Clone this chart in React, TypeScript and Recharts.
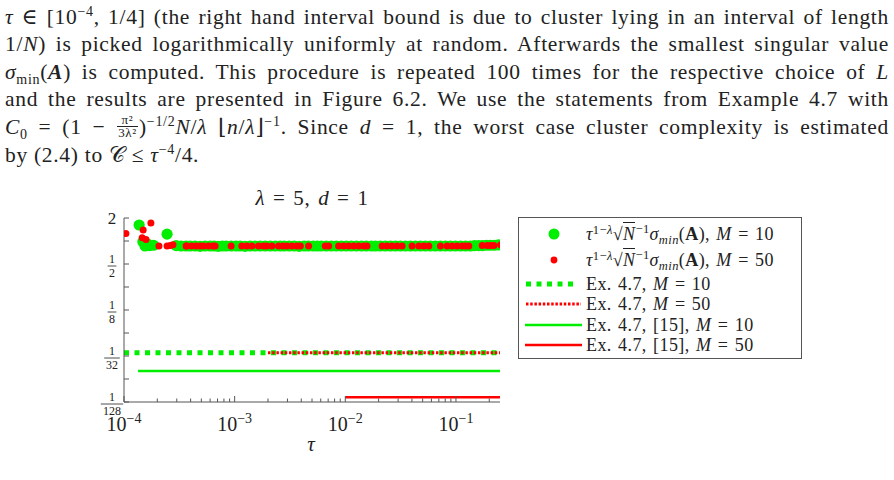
import { ComposedChart, Scatter, Line, XAxis, YAxis, Legend } from "recharts";

// measured sigma_min values (scaled), M = 10
const tauM10 = [
  1.37e-4, 1.48e-4, 1.55e-4, 1.62e-4, 1.7e-4, 1.85e-4, 2.45e-4, 2.96e-4, 3.28e-4, 3.64e-4,
  3.96e-4, 4.39e-4, 4.87e-4, 5.41e-4, 6.0e-4, 6.52e-4, 7.09e-4, 7.71e-4, 8.38e-4, 9.3e-4,
  1.03e-3, 1.12e-3, 1.24e-3, 1.38e-3, 1.53e-3, 1.7e-3, 1.89e-3, 2.1e-3, 2.33e-3, 2.58e-3,
  2.8e-3, 3.11e-3, 3.45e-3, 3.83e-3, 4.25e-3, 4.63e-3, 5.13e-3, 5.58e-3, 6.07e-3, 6.73e-3,
  7.47e-3, 8.29e-3, 9.2e-3, 1.02e-2, 1.13e-2, 1.26e-2, 1.4e-2, 1.55e-2, 1.72e-2, 1.87e-2,
  2.07e-2, 2.3e-2, 2.56e-2, 2.84e-2, 3.15e-2, 3.49e-2, 3.88e-2, 4.3e-2, 4.77e-2, 5.3e-2,
  5.88e-2, 6.52e-2, 7.24e-2, 8.03e-2, 8.91e-2, 9.89e-2, 0.11, 0.122, 0.135, 0.147,
  0.16, 0.174, 0.189, 0.205, 0.223, 0.242,
];
const sigmaM10 = [
  1.62, 0.98, 0.86, 0.92, 0.87, 0.88, 1.23, 0.87, 0.86, 0.86,
  0.86, 0.86, 0.85, 0.86, 0.86, 0.86, 0.85, 0.86, 0.86, 0.86,
  0.86, 0.86, 0.85, 0.86, 0.86, 0.86, 0.86, 0.86, 0.86, 0.86,
  0.86, 0.86, 0.86, 0.85, 0.86, 0.86, 0.86, 0.86, 0.86, 0.86,
  0.86, 0.86, 0.86, 0.86, 0.86, 0.86, 0.86, 0.86, 0.86, 0.86,
  0.86, 0.86, 0.86, 0.86, 0.86, 0.86, 0.86, 0.86, 0.86, 0.86,
  0.86, 0.86, 0.86, 0.86, 0.86, 0.86, 0.86, 0.86, 0.86, 0.87,
  0.87, 0.87, 0.88, 0.88, 0.88, 0.89,
];

// M = 50
const tauM50 = [
  1.04e-4, 1.46e-4, 1.49e-4, 1.58e-4, 1.75e-4, 2.07e-4, 2.45e-4, 2.62e-4, 2.77e-4, 3.64e-4,
  3.69e-4, 4.09e-4, 4.48e-4, 4.87e-4, 5.22e-4, 5.79e-4, 6.34e-4, 6.66e-4, 9.29e-4, 1.16e-3,
  1.29e-3, 1.43e-3, 1.64e-3, 1.82e-3, 1.95e-3, 2.17e-3, 2.49e-3, 2.73e-3, 2.97e-3, 3.29e-3,
  3.65e-3, 3.92e-3, 4.66e-3, 6.59e-3, 7.06e-3, 8.7e-3, 9.66e-3, 1.07e-2, 1.19e-2, 1.32e-2,
  1.47e-2, 1.57e-2, 2.15e-2, 2.38e-2, 2.64e-2, 2.94e-2, 3.26e-2, 4.01e-2, 4.61e-2, 5.12e-2,
  5.68e-2, 7.24e-2, 8.32e-2, 9.24e-2, 0.1026, 0.1138, 0.1219, 0.1306, 0.1725, 0.1915,
  0.2051, 0.2198, 0.2529,
];
const sigmaM50 = [
  1.25, 1.1, 1.39, 1.05, 1.72, 0.86, 0.86, 0.87, 0.89, 0.86,
  0.86, 0.86, 0.86, 0.86, 0.86, 0.86, 0.86, 0.86, 0.86, 0.86,
  0.86, 0.86, 0.86, 0.86, 0.86, 0.86, 0.86, 0.86, 0.86, 0.86,
  0.86, 0.86, 0.86, 0.86, 0.86, 0.86, 0.86, 0.86, 0.86, 0.86,
  0.86, 0.86, 0.86, 0.86, 0.86, 0.86, 0.86, 0.86, 0.86, 0.86,
  0.86, 0.86, 0.86, 0.86, 0.86, 0.86, 0.86, 0.86, 0.87, 0.87,
  0.87, 0.87, 0.89,
];

// bounds from Ex. 4.7 (start, end of tau range) and their constant values
const ex47Tau10 = [1e-4, 0.25];
const ex47Val10 = [0.0345, 0.0345];
const ex47Tau50 = [2e-3, 0.25];
const ex47Val50 = [0.0345, 0.0345];
const ref15Tau10 = [1.34e-4, 0.25];
const ref15Val10 = [0.0199, 0.0199];
const ref15Tau50 = [1e-2, 0.25];
const ref15Val50 = [0.009, 0.009];

const xMajorTicks = [1e-4, 1e-3, 1e-2, 1e-1];
const xMajorExps = ["−4", "−3", "−2", "−1"];
const xMinorTicks = [
  2e-4, 3e-4, 4e-4, 5e-4, 6e-4, 7e-4, 8e-4, 9e-4,
  2e-3, 3e-3, 4e-3, 5e-3, 6e-3, 7e-3, 8e-3, 9e-3,
  2e-2, 3e-2, 4e-2, 5e-2, 6e-2, 7e-2, 8e-2, 9e-2, 0.2,
];
const yTicks = [1 / 128, 1 / 64, 1 / 32, 1 / 16, 1 / 8, 1 / 4, 1 / 2, 1, 2];
const yTickLabels = [["1", "128"], null, ["1", "32"], null, ["1", "8"], null, ["1", "2"], null, ["2"]];

const GREEN = "#00ee00";
const RED = "#ff0000";
const FRAME = "#555";
const SERIF = "'Liberation Serif', 'DejaVu Serif', serif";

const zip = (t: number[], v: number[]) => t.map((tau, i) => ({ tau, value: v[i] }));

const m10 = zip(tauM10, sigmaM10);
const m50 = zip(tauM50, sigmaM50);

const xTicks = [...xMajorTicks, ...xMinorTicks].sort((a, b) => a - b);

const XTickBottom = (props: any) => {
  const { x, y, payload } = props;
  const i = xMajorTicks.indexOf(payload.value);
  const major = i >= 0;
  return (
    <g>
      <line x1={x} x2={x} y1={y} y2={y - (major ? 6 : 3.5)} stroke={FRAME} />
      {major && (
        <text x={x} y={y + 29} textAnchor="middle" fontFamily={SERIF} fontSize={20} fill="#222">
          <tspan>10</tspan>
          <tspan dy={-8} fontSize={14}>{xMajorExps[i]}</tspan>
        </text>
      )}
    </g>
  );
};

const XTickTop = (props: any) => {
  const { x, y, payload } = props;
  const major = xMajorTicks.includes(payload.value);
  return <line x1={x} x2={x} y1={y} y2={y + (major ? 6 : 3.5)} stroke={FRAME} />;
};

const YTickLeft = (props: any) => {
  const { x, y, payload } = props;
  const lab = yTickLabels[yTicks.indexOf(payload.value)];
  const cx = x - 12;
  return (
    <g>
      <line x1={x} x2={x + 5} y1={y} y2={y} stroke={FRAME} />
      {lab && lab.length === 1 && (
        <text x={cx} y={y + 6} textAnchor="middle" fontFamily={SERIF} fontSize={17} fill="#222">
          {lab[0]}
        </text>
      )}
      {lab && lab.length === 2 && (
        <g fontFamily={SERIF} fontSize={12} fill="#222" textAnchor="middle">
          <text x={cx} y={y - 1.5}>{lab[0]}</text>
          <line
            x1={cx - lab[1].length * 3.4 - 1}
            x2={cx + lab[1].length * 3.4 + 1}
            y1={y + 2}
            y2={y + 2}
            stroke="#222"
            strokeWidth={0.8}
          />
          <text x={cx} y={y + 12.5}>{lab[1]}</text>
        </g>
      )}
    </g>
  );
};

const YTickRight = (props: any) => {
  const { x, y } = props;
  return <line x1={x} x2={x - 5} y1={y} y2={y} stroke={FRAME} />;
};

const Sup = ({ children, size = 14, top = -8 }: any) => (
  <span style={{ fontSize: size, position: "relative", top, lineHeight: 0 }}>{children}</span>
);
const Sub = ({ children, size = 14, top = 5 }: any) => (
  <span style={{ fontSize: size, position: "relative", top, lineHeight: 0 }}>{children}</span>
);

const Frac = ({ n, d }: { n: string; d: string }) => (
  <span
    style={{
      display: "inline-flex",
      flexDirection: "column",
      alignItems: "center",
      fontSize: 13,
      lineHeight: "12px",
      verticalAlign: "middle",
      position: "relative",
      top: -2,
      margin: "0 1px",
    }}
  >
    <span>{n}</span>
    <span style={{ borderTop: "1px solid #222", padding: "0 1px" }}>{d}</span>
  </span>
);

const paragraph = [
  <>
    <i>τ</i> ∈ [10<Sup>−4</Sup>, 1/4] (the right hand interval bound is due to cluster lying in an interval of length
  </>,
  <>
    1/<i>N</i>) is picked logarithmically uniformly at random. Afterwards the smallest singular value
  </>,
  <>
    <i>σ</i>
    <Sub>min</Sub>(<b><i>A</i></b>) is computed. This procedure is repeated 100 times for the respective choice of <i>L</i>
  </>,
  <>and the results are presented in Figure 6.2. We use the statements from Example 4.7 with</>,
  <>
    <i>C</i>
    <Sub>0</Sub> = (1 − <Frac n="π²" d="3λ²" />)<Sup>−1/2</Sup>
    <i>N</i>/<i>λ</i> ⌊<i>n</i>/<i>λ</i>⌋<Sup>−1</Sup>. Since <i>d</i> = 1, the worst case cluster complexity is estimated
  </>,
  <>
    by (2.4) to 𝒞 ≤ <i>τ</i>
    <Sup>−4</Sup>/4.
  </>,
];

const SigmaLabel = ({ m }: { m: number }) => (
  <>
    <i>τ</i>
    <Sup size={12.5} top={-6}>1−<i>λ</i></Sup>
    <span>√</span>
    <span style={{ borderTop: "1px solid #222", paddingTop: 1 }}>
      <i>N</i>
    </span>
    <Sup size={12.5} top={-7}>−1</Sup>
    <i>σ</i>
    <Sub size={12.5} top={4}><i>min</i></Sub>(<b>A</b>), <i>M</i> = {m}
  </>
);

const legendRows = [
  { top: 16, kind: "bigdot", color: GREEN, label: <SigmaLabel m={10} /> },
  { top: 42, kind: "dot", color: RED, label: <SigmaLabel m={50} /> },
  { top: 66, kind: "dash", color: GREEN, label: <>Ex. 4.7, <i>M</i> = 10</> },
  { top: 86, kind: "dotted", color: RED, label: <>Ex. 4.7, <i>M</i> = 50</> },
  { top: 107, kind: "solid", color: GREEN, label: <>Ex. 4.7, [15], <i>M</i> = 10</> },
  { top: 127, kind: "solid", color: RED, label: <>Ex. 4.7, [15], <i>M</i> = 50</> },
];

const LegendBox = () => (
  <div
    style={{
      position: "relative",
      width: 284,
      height: 142,
      boxSizing: "border-box",
      border: `1px solid ${FRAME}`,
      background: "#fff",
      fontFamily: SERIF,
      fontSize: 18,
      letterSpacing: 0.4,
      wordSpacing: 1.5,
      color: "#222",
    }}
  >
    {legendRows.map((r, i) => (
      <div key={i} style={{ position: "absolute", left: 0, top: r.top - 11, height: 22, width: 284 }}>
        <svg width={66} height={22} style={{ position: "absolute", left: 0, top: 0 }}>
          {r.kind === "bigdot" && <circle cx={35} cy={11} r={5.5} fill={r.color} />}
          {r.kind === "dot" && <circle cx={35} cy={11} r={3.4} fill={r.color} />}
          {r.kind === "dash" && (
            <line x1={7} x2={59} y1={11} y2={11} stroke={r.color} strokeWidth={5} strokeDasharray="5 5.5" />
          )}
          {r.kind === "dotted" && (
            <line x1={7} x2={62} y1={11} y2={11} stroke={r.color} strokeWidth={3} strokeDasharray="2.5 1.7" />
          )}
          {r.kind === "solid" && <line x1={6} x2={63} y1={11} y2={11} stroke={r.color} strokeWidth={2.5} />}
        </svg>
        <div style={{ position: "absolute", left: 67, top: 0, lineHeight: "22px", whiteSpace: "nowrap" }}>
          {r.label}
        </div>
      </div>
    ))}
  </div>
);

const dot = (r: number, fill: string) => (p: any) => <circle cx={p.cx} cy={p.cy} r={r} fill={fill} />;

export default function App() {
  return (
    <div style={{ position: "absolute", left: 0, top: 0, width: 894, height: 480, background: "#fff", fontFamily: SERIF, color: "#222" }}>
      {paragraph.map((line, i) => (
        <div
          key={i}
          style={{
            position: "absolute",
            left: 5,
            top: 3.5 + i * 27.6,
            width: 884,
            height: 27.6,
            lineHeight: "27.6px",
            fontSize: 21.5,
            letterSpacing: 0.7,
            whiteSpace: "nowrap",
            textAlign: i === paragraph.length - 1 ? "left" : "justify",
            textAlignLast: i === paragraph.length - 1 ? "left" : "justify",
          }}
        >
          {line}
        </div>
      ))}

      <div style={{ position: "absolute", left: 212, width: 200, top: 186, textAlign: "center", fontSize: 21, letterSpacing: 0.6, wordSpacing: 2 }}>
        <i>λ</i> = 5, <i>d</i> = 1
      </div>
      <div style={{ position: "absolute", left: 300, width: 22, top: 432, textAlign: "center", fontSize: 21 }}>
        <i>τ</i>
      </div>

      <div style={{ position: "absolute", left: 0, top: 180 }}>
        <ComposedChart width={894} height={300} margin={{ top: 38, right: 394, bottom: 38, left: 0 }}>
          <XAxis
            xAxisId="b"
            dataKey="tau"
            type="number"
            scale="log"
            domain={[1e-4, 0.25]}
            allowDataOverflow
            ticks={xTicks}
            interval={0}
            tickSize={0}
            tickMargin={0}
            height={40}
            stroke={FRAME}
            tick={<XTickBottom />}
          />
          <XAxis
            xAxisId="t"
            orientation="top"
            dataKey="tau"
            type="number"
            scale="log"
            domain={[1e-4, 0.25]}
            allowDataOverflow
            ticks={xTicks}
            interval={0}
            tickSize={0}
            tickMargin={0}
            height={0}
            stroke={FRAME}
            tick={<XTickTop />}
          />
          <YAxis
            yAxisId="l"
            type="number"
            scale="log"
            domain={[1 / 128, 2]}
            allowDataOverflow
            ticks={yTicks}
            interval={0}
            tickSize={0}
            tickMargin={0}
            width={124}
            stroke={FRAME}
            tick={<YTickLeft />}
          />
          <YAxis
            yAxisId="r"
            orientation="right"
            type="number"
            scale="log"
            domain={[1 / 128, 2]}
            allowDataOverflow
            ticks={yTicks}
            interval={0}
            tickSize={0}
            tickMargin={0}
            width={0}
            stroke={FRAME}
            tick={<YTickRight />}
          />
          <Line
            xAxisId="b"
            yAxisId="l"
            data={zip(ex47Tau10, ex47Val10)}
            dataKey="value"
            stroke={GREEN}
            strokeWidth={5}
            strokeDasharray="5 5.5"
            dot={false}
            isAnimationActive={false}
          />
          <Line
            xAxisId="b"
            yAxisId="l"
            data={zip(ex47Tau50, ex47Val50)}
            dataKey="value"
            stroke={RED}
            strokeWidth={3}
            strokeDasharray="2.5 1.7"
            dot={false}
            isAnimationActive={false}
          />
          <Line
            xAxisId="b"
            yAxisId="l"
            data={zip(ref15Tau10, ref15Val10)}
            dataKey="value"
            stroke={GREEN}
            strokeWidth={2.5}
            dot={false}
            isAnimationActive={false}
          />
          <Line
            xAxisId="b"
            yAxisId="l"
            data={zip(ref15Tau50, ref15Val50)}
            dataKey="value"
            stroke={RED}
            strokeWidth={2.5}
            dot={false}
            isAnimationActive={false}
          />
          <Scatter
            xAxisId="b"
            yAxisId="l"
            data={m10}
            dataKey="value"
            shape={dot(5.6, GREEN)}
            isAnimationActive={false}
          />
          <Scatter
            xAxisId="b"
            yAxisId="l"
            data={m50}
            dataKey="value"
            shape={dot(3.5, RED)}
            isAnimationActive={false}
          />
          <Legend
            layout="vertical"
            align="center"
            verticalAlign="middle"
            wrapperStyle={{ left: 518, top: 37, width: 284, height: 142 }}
            content={() => <LegendBox />}
          />
        </ComposedChart>
      </div>
    </div>
  );
}
